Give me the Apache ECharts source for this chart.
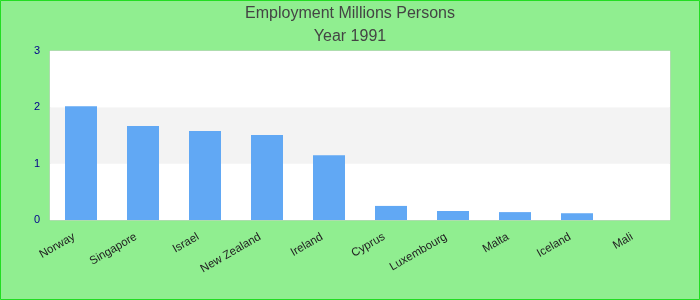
<!DOCTYPE html>
<html><head><meta charset="utf-8">
<script src="https://cdn.jsdelivr.net/npm/echarts@6/dist/echarts.min.js"></script>
<style>html,body{margin:0;padding:0;}#c{width:700px;height:300px;}</style>
</head><body><div id="c"></div>
<script>
const categories = ['Norway','Singapore','Israel','New Zealand','Ireland','Cyprus','Luxembourg','Malta','Iceland','Mali'];
const values = [2.02,1.67,1.58,1.51,1.15,0.25,0.16,0.14,0.12,0];
const titleText = 'Employment Millions Persons\nYear 1991';
const chart = echarts.init(document.getElementById('c'));
chart.setOption({
  backgroundColor:'#90EE90',
  animation:false,
  graphic:[{type:'rect',shape:{x:0.5,y:0.5,width:699,height:299},style:{fill:'none',stroke:'#22dd22',lineWidth:1},silent:true,z:100}],
  title:{text:titleText,left:'center',top:0,padding:[2,5],textStyle:{fontFamily:'Liberation Sans, Arial, sans-serif',fontSize:16,fontWeight:'normal',color:'#444',lineHeight:23}},
  grid:{left:50,right:30,top:51,bottom:80,show:true,backgroundColor:'#fff',borderColor:'#ccc',borderWidth:1},
  xAxis:{type:'category',data:categories,
    axisLine:{show:false},axisTick:{show:false},
    axisLabel:{rotate:30,interval:0,margin:12,padding:[0,8,0,0],fontSize:11.5,color:'#222',fontFamily:'Liberation Sans, Arial, sans-serif'}},
  yAxis:{type:'value',min:0,max:3,interval:1,
    axisLine:{show:false},axisTick:{show:false},splitLine:{show:false},
    splitArea:{show:true,areaStyle:{color:['#ffffff','#f3f3f3','#ffffff']}},
    axisLabel:{fontSize:11,color:'#00008b',margin:10,fontFamily:'Liberation Sans, Arial, sans-serif'}},
  series:[{type:'bar',data:values,barWidth:32,itemStyle:{color:'#61a8f4'}}]
});
</script></body></html>
